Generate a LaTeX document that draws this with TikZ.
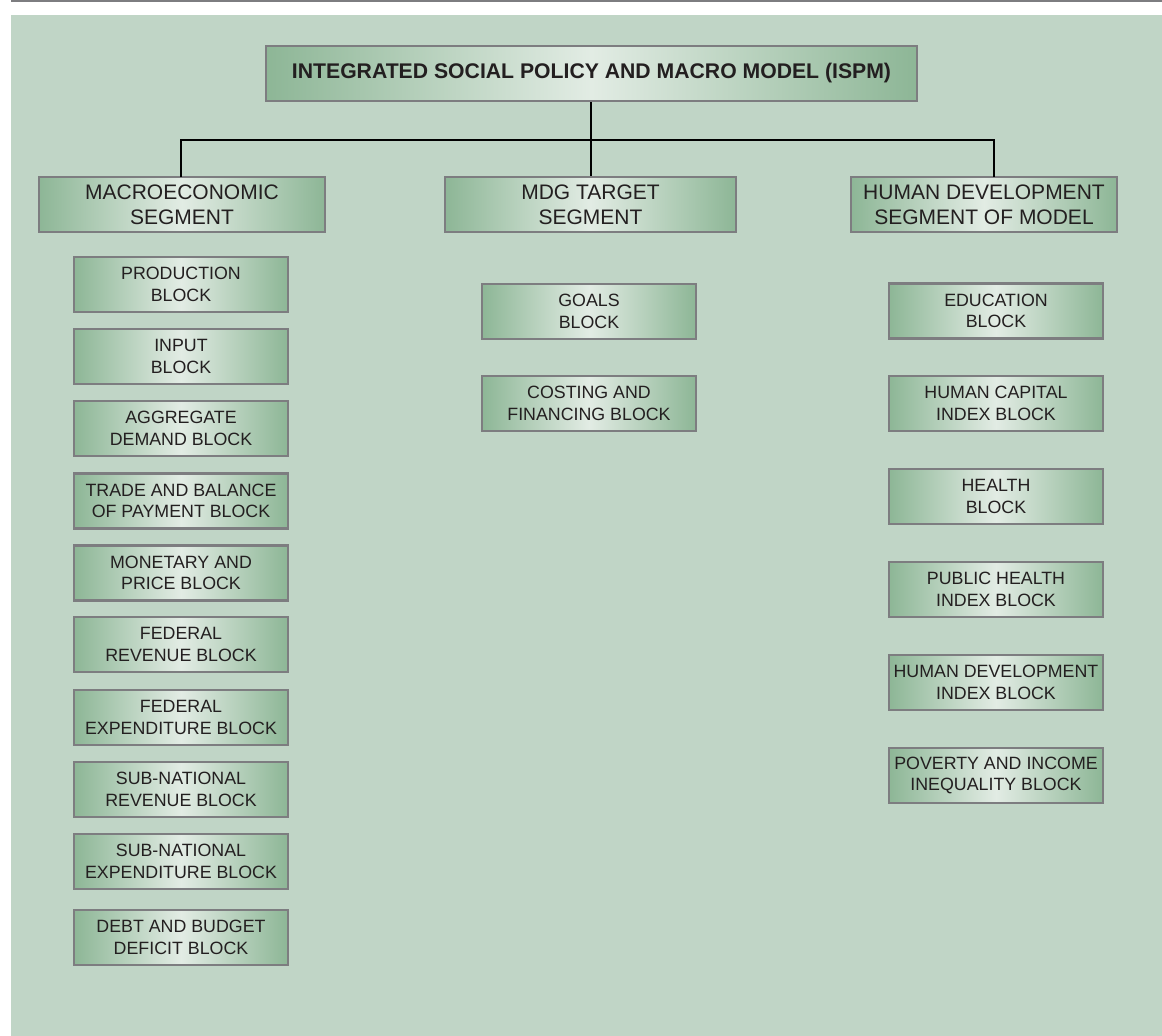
\documentclass[tikz,border=0pt]{standalone}
\usepackage{fontspec}
\setmainfont{Liberation Sans}
\usetikzlibrary{calc}
\definecolor{bg}{RGB}{192,213,198}
\definecolor{gEdge}{RGB}{141,182,150}
\definecolor{gMid}{RGB}{226,236,228}
\definecolor{bord}{RGB}{125,125,128}
\definecolor{ink}{RGB}{35,31,32}
\tikzset{
  box/.style={draw=bord, line width=2.8pt, left color=gEdge, right color=gEdge, middle color=gMid,
    inner sep=0pt, align=center, text=ink, minimum height=55pt},
  titlebox/.style={box, minimum width=651pt, font=\fontsize{21.2}{24}\selectfont\bfseries},
  segbox/.style={box, font=\fontsize{21}{25}\selectfont},
  blk/.style={box, minimum width=214pt, font=\fontsize{17.8}{21.5}\selectfont},
  conn/.style={draw=black, line width=2pt}
}
\begin{document}
\begin{tikzpicture}[x=1pt,y=-1pt]
\useasboundingbox (0,0) rectangle (1162,1036);
\fill[white] (0,0) rectangle (1162,1036);
\fill[bg] (11,15) rectangle (1162,1036);
\draw[bord, line width=1.5pt] (11,0.75) -- (1162,0.75);

\node[titlebox] (title) at (591.5,73.5) {INTEGRATED SOCIAL POLICY AND MACRO MODEL (ISPM)};

\node[segbox, minimum width=286pt] (macro) at (182,204.5) {MACROECONOMIC\\SEGMENT};
\node[segbox, minimum width=291pt] (mdg) at (590.5,204.5) {MDG TARGET\\SEGMENT};
\node[segbox, minimum width=266pt] (hd) at (984,204.5) {HUMAN DEVELOPMENT\\SEGMENT OF MODEL};

\coordinate (bus) at (591,140);
\coordinate (hdtap) at (994,177);
\coordinate (mctap) at (181,177);
\draw[conn] (title.south -| bus) -- (mdg.north -| bus);
\draw[conn] (mctap) |- (bus) -| (hdtap);

% left column
\node[blk] (prod) at (181,284.5) {PRODUCTION\\BLOCK};
\node[blk] (input) at (181,356.5) {INPUT\\BLOCK};
\node[blk] (agg) at (181,428.5) {AGGREGATE\\DEMAND BLOCK};
\node[blk] (trade) at (181,501) {TRADE AND BALANCE\\OF PAYMENT BLOCK};
\node[blk] (mon) at (181,573) {MONETARY AND\\PRICE BLOCK};
\node[blk] (fedrev) at (181,644.5) {FEDERAL\\REVENUE BLOCK};
\node[blk] (fedexp) at (181,717.5) {FEDERAL\\EXPENDITURE BLOCK};
\node[blk] (subrev) at (181,789.5) {SUB-NATIONAL\\REVENUE BLOCK};
\node[blk] (subexp) at (181,861.5) {SUB-NATIONAL\\EXPENDITURE BLOCK};
\node[blk] (debt) at (181,937.5) {DEBT AND BUDGET\\DEFICIT BLOCK};

% middle column
\node[blk] (goals) at (589,311.5) {GOALS\\BLOCK};
\node[blk] (cost) at (589,403.5) {COSTING AND\\FINANCING BLOCK};

% right column
\node[blk] (edu) at (996,311) {EDUCATION\\BLOCK};
\node[blk] (hci) at (996,403.5) {HUMAN CAPITAL\\INDEX BLOCK};
\node[blk] (health) at (996,496.5) {HEALTH\\BLOCK};
\node[blk] (phi) at (996,589.5) {PUBLIC HEALTH\\INDEX BLOCK};
\node[blk] (hdi) at (996,682.5) {HUMAN DEVELOPMENT\\INDEX BLOCK};
\node[blk] (pov) at (996,775.5) {POVERTY AND INCOME\\INEQUALITY BLOCK};
\end{tikzpicture}
\end{document}
